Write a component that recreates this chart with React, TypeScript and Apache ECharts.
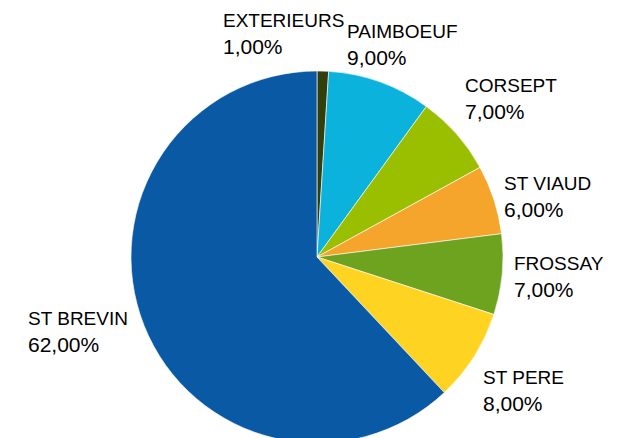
import React, { useEffect, useRef } from "react";
import * as echarts from "echarts";

const categories = ["EXTERIEURS", "PAIMBOEUF", "CORSEPT", "ST VIAUD", "FROSSAY", "ST PERE", "ST BREVIN"];
const values = [1, 9, 7, 6, 7, 8, 62];
const colors = ["#333F0B", "#0BB2DC", "#99BF00", "#F5A52B", "#6EA31F", "#FFD321", "#0A59A4"];
const labelPos: [number, number][] = [
  [223, 7],
  [347, 18],
  [465, 72],
  [504, 170],
  [514, 250],
  [483, 364],
  [28, 305],
];

export default function App() {
  const ref = useRef<HTMLDivElement>(null);
  useEffect(() => {
    if (!ref.current) return;
    const chart = echarts.init(ref.current, undefined, { renderer: "svg" });
    chart.setOption({
      animation: false,
      backgroundColor: "#ffffff",
      series: [
        {
          type: "pie",
          center: [317, 257],
          radius: 186,
          startAngle: 90,
          clockwise: true,
          avoidLabelOverlap: false,
          data: categories.map((c, i) => ({ name: c, value: values[i], itemStyle: { color: colors[i] } })),
          itemStyle: { borderColor: "#ffffff", borderWidth: 0.6 },
          label: {
            show: true,
            position: "outside",
            color: "#000000",
            fontFamily: "'Liberation Sans'",
            fontSize: 19,
            lineHeight: 26,
            formatter: (p: any) => `{n|${p.name}}\n{v|${Number(p.value).toFixed(2).replace(".", ",")}%}`,
            rich: {
              n: { fontSize: 19, lineHeight: 26, fontFamily: "'Liberation Sans'", color: "#000000" },
              v: { fontSize: 21, lineHeight: 27, fontFamily: "'Liberation Sans'", color: "#000000" },
            },
          },
          labelLine: { show: false },
          labelLayout: (p: any) => ({
            x: labelPos[p.dataIndex][0],
            y: labelPos[p.dataIndex][1],
            align: "left",
            verticalAlign: "top",
          }),
          emphasis: { disabled: true },
        },
      ],
    });
    return () => chart.dispose();
  }, []);
  return (
    <div
      ref={ref}
      style={{ position: "fixed", left: 0, top: 0, width: 625, height: 438 }}
    />
  );
}
